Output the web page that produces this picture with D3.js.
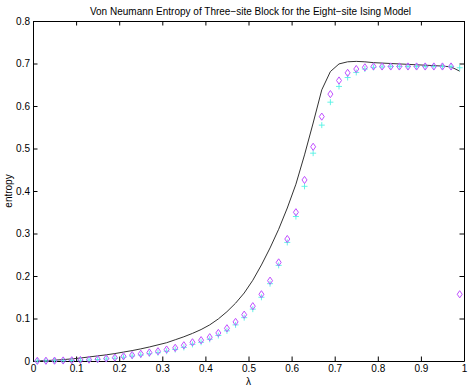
<!DOCTYPE html>
<html>
<head>
<meta charset="utf-8">
<script src="https://cdn.jsdelivr.net/npm/d3@7"></script>
<style>
  body { margin: 0; background: #fff; }
  svg { display: block; font-family: "Liberation Sans", Arial, sans-serif; }
</style>
</head>
<body>
<div id="chart"></div>
<script>
// lambda sample points
const lambdas = [0.01, 0.03, 0.05, 0.07, 0.09, 0.11, 0.13, 0.15, 0.17, 0.19,
  0.21, 0.23, 0.25, 0.27, 0.29, 0.31, 0.33, 0.35, 0.37, 0.39,
  0.41, 0.43, 0.45, 0.47, 0.49, 0.51, 0.53, 0.55, 0.57, 0.59,
  0.61, 0.63, 0.65, 0.67, 0.69, 0.71, 0.73, 0.75, 0.77, 0.79,
  0.81, 0.83, 0.85, 0.87, 0.89, 0.91, 0.93, 0.95, 0.97, 0.99];

// black solid curve
const exactEntropy = [0.0003, 0.001, 0.002, 0.0033, 0.005, 0.007, 0.0095, 0.012, 0.0145, 0.0175,
  0.021, 0.0245, 0.0285, 0.033, 0.038, 0.043, 0.05, 0.057, 0.065, 0.074,
  0.085, 0.099, 0.116, 0.136, 0.16, 0.19, 0.226, 0.266, 0.31, 0.36,
  0.416, 0.485, 0.56, 0.638, 0.681, 0.699, 0.704, 0.705, 0.704, 0.702,
  0.701, 0.7, 0.699, 0.698, 0.697, 0.696, 0.695, 0.694, 0.692, 0.682];

// cyan plus markers
const plusEntropy = [0.0002, 0.0003, 0.0005, 0.0008, 0.0012, 0.0018, 0.0025, 0.0035, 0.0048, 0.0065,
  0.009, 0.0115, 0.014, 0.017, 0.0195, 0.023, 0.027, 0.032, 0.039, 0.044,
  0.051, 0.06, 0.071, 0.085, 0.102, 0.122, 0.15, 0.182, 0.225, 0.279,
  0.34, 0.411, 0.489, 0.555, 0.609, 0.646, 0.667, 0.679, 0.687, 0.691,
  0.692, 0.693, 0.693, 0.693, 0.693, 0.693, 0.693, 0.693, 0.693, 0.69];

// magenta diamond markers
const diamondEntropy = [0.0004, 0.0006, 0.0008, 0.0012, 0.0017, 0.0024, 0.0033, 0.0045, 0.006, 0.008,
  0.011, 0.014, 0.017, 0.02, 0.023, 0.027, 0.031, 0.037, 0.044, 0.049,
  0.056, 0.066, 0.077, 0.092, 0.109, 0.129, 0.157, 0.189, 0.232, 0.287,
  0.35, 0.426, 0.504, 0.575, 0.628, 0.66, 0.678, 0.687, 0.691, 0.693,
  0.693, 0.693, 0.693, 0.693, 0.693, 0.693, 0.693, 0.693, 0.693, 0.157];

const xTicks = [0, 0.1, 0.2, 0.3, 0.4, 0.5, 0.6, 0.7, 0.8, 0.9, 1];
const yTicks = [0, 0.1, 0.2, 0.3, 0.4, 0.5, 0.6, 0.7, 0.8];

const width = 471, height = 389;
const plotLeft = 33, plotRight = 464, plotTop = 21, plotBottom = 361;

const svg = d3.select("#chart").append("svg")
  .attr("width", width)
  .attr("height", height);

const x = d3.scaleLinear().domain([0, 1]).range([plotLeft, plotRight]);
const y = d3.scaleLinear().domain([0, 0.8]).range([plotBottom, plotTop]);
const fmt = d3.format("~g");

// Axes (ticks inward on all four sides)
function styleAxis(g) {
  g.selectAll("path.domain").attr("stroke", "#000").attr("stroke-width", 1);
  g.selectAll(".tick line").attr("stroke", "#000");
  g.selectAll(".tick text").attr("fill", "#000").attr("font-size", 10)
    .attr("font-family", "Liberation Sans, Arial, sans-serif");
}

svg.append("g")
  .attr("transform", `translate(0,${plotBottom})`)
  .call(d3.axisBottom(x).tickValues(xTicks).tickFormat(fmt).tickSizeInner(-4.5).tickSizeOuter(0).tickPadding(4))
  .call(styleAxis);

svg.append("g")
  .attr("transform", `translate(0,${plotTop})`)
  .call(d3.axisTop(x).tickValues(xTicks).tickFormat("").tickSizeInner(-4.5).tickSizeOuter(0))
  .call(styleAxis);

svg.append("g")
  .attr("transform", `translate(${plotLeft},0)`)
  .call(d3.axisLeft(y).tickValues(yTicks).tickFormat(fmt).tickSizeInner(-4.5).tickSizeOuter(0).tickPadding(3))
  .call(styleAxis);

svg.append("g")
  .attr("transform", `translate(${plotRight},0)`)
  .call(d3.axisRight(y).tickValues(yTicks).tickFormat("").tickSizeInner(-4.5).tickSizeOuter(0))
  .call(styleAxis);

// Black curve
const line = d3.line()
  .x((d, i) => x(lambdas[i]))
  .y(d => y(d));

svg.append("path")
  .datum(exactEntropy)
  .attr("d", line)
  .attr("fill", "none")
  .attr("stroke", "#333")
  .attr("stroke-width", 1);

// Cyan plus markers
svg.append("g")
  .selectAll("path")
  .data(plusEntropy)
  .join("path")
  .attr("transform", (d, i) => `translate(${x(lambdas[i])},${y(d)})`)
  .attr("d", "M-3,0H3M0,-3V3")
  .attr("stroke", "#55f2e4")
  .attr("stroke-width", 0.9)
  .attr("fill", "none");

// Magenta diamond markers
svg.append("g")
  .selectAll("path")
  .data(diamondEntropy)
  .join("path")
  .attr("transform", (d, i) => `translate(${x(lambdas[i])},${y(d)})`)
  .attr("d", "M0,-3.6L2.5,0L0,3.6L-2.5,0Z")
  .attr("stroke", "#c050ff")
  .attr("stroke-width", 1)
  .attr("fill", "none");

// Title and axis labels
svg.append("text")
  .attr("x", (plotLeft + plotRight) / 2 + 2)
  .attr("y", 15)
  .attr("text-anchor", "middle")
  .attr("font-size", 10)
  .text("Von Neumann Entropy of Three\u2212site Block for the Eight\u2212site Ising Model");

svg.append("text")
  .attr("x", (plotLeft + plotRight) / 2)
  .attr("y", 385)
  .attr("text-anchor", "middle")
  .attr("font-size", 10)
  .text("\u03bb");

svg.append("text")
  .attr("transform", `translate(12,${(plotTop + plotBottom) / 2}) rotate(-90)`)
  .attr("text-anchor", "middle")
  .attr("font-size", 10)
  .text("entropy");
</script>
</body>
</html>
